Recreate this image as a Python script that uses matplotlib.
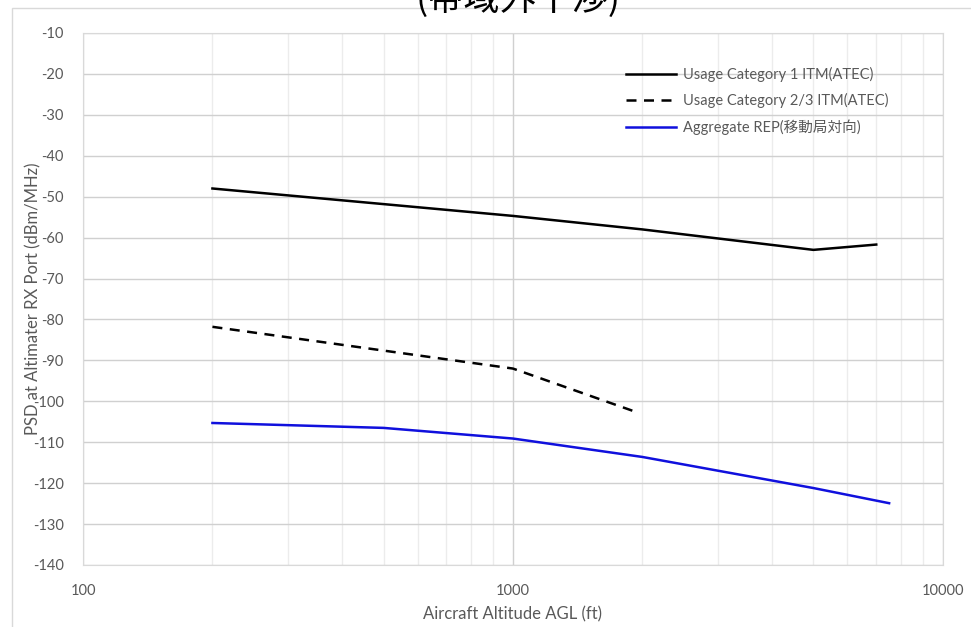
import matplotlib.pyplot as plt
from matplotlib.patches import Rectangle
from matplotlib.ticker import FixedLocator, NullFormatter

plt.rcParams['font.family'] = ['Lato', 'Noto Sans CJK JP', 'DejaVu Sans']
plt.rcParams['axes.unicode_minus'] = False

# series
cat1_alt = [200, 1000, 2000, 5000, 7000]
cat1_psd = [-48, -54.7, -58, -63, -61.7]

cat23_alt = [200, 1000, 1920]
cat23_psd = [-81.8, -92, -102.5]

agg_alt = [200, 500, 1000, 2000, 5000, 7500]
agg_psd = [-105.3, -106.5, -109.1, -113.6, -121.2, -124.9]

labels = ['Usage Category 1 ITM(ATEC)',
          'Usage Category 2/3 ITM(ATEC)',
          'Aggregate REP(移動局対向)']

fig = plt.figure(figsize=(9.71, 6.27), dpi=100)
ax = fig.add_axes([0.0855, 0.0989, 0.8855, 0.8485])

fig.patches.append(Rectangle((12 / 971, -0.1), 1.2, 1 - 8 / 627 + 0.1,
                             transform=fig.transFigure, fill=False,
                             edgecolor='#d9d9d9', linewidth=1))

ax.plot(cat1_alt, cat1_psd, color='black', lw=1.8, label=labels[0])
ax.plot(cat23_alt, cat23_psd, color='black', lw=1.8, ls=(0, (4, 3)), label=labels[1])
ax.plot(agg_alt, agg_psd, color='#1010dd', lw=1.8, label=labels[2])

ax.set_xscale('log')
ax.set_xlim(100, 10000)
ax.set_ylim(-140, -10)
ax.set_yticks(range(-140, -9, 10))
ax.xaxis.set_major_locator(FixedLocator([100, 1000, 10000]))
ax.set_xticklabels(['100', '1000', '10000'])
minors = [m * d for d in (100, 1000) for m in range(2, 10)]
ax.xaxis.set_minor_locator(FixedLocator(minors))
ax.xaxis.set_minor_formatter(NullFormatter())

ax.grid(True, which='major', color='#d0d0d0', lw=1)
ax.grid(True, which='minor', axis='x', color='#ececec', lw=1)
ax.set_axisbelow(True)
for s in ax.spines.values():
    s.set_color('#d9d9d9')
ax.tick_params(which='both', length=0, colors='#595959', labelsize=10.5)
ax.tick_params(axis='x', pad=14)
ax.tick_params(axis='y', pad=14)

ax.set_xlabel('Aircraft Altitude AGL (ft)', color='#595959', fontsize=12, labelpad=6)
ax.set_ylabel('PSD at Altimater RX Port (dBm/MHz)', color='#595959', fontsize=12, labelpad=-6)

leg = ax.legend(loc='upper right', bbox_to_anchor=(0.952, 0.96), frameon=False,
                fontsize=10.5, handlelength=3.4, handletextpad=0.5, labelspacing=0.75)
for t in leg.get_texts():
    t.set_color('#595959')

fig.text(0.534, 1.002, '(帯域外干渉)', ha='center', va='center', fontsize=26,
         family=['Noto Sans CJK JP', 'DejaVu Sans'])

fig.savefig('out.png', dpi=100)
